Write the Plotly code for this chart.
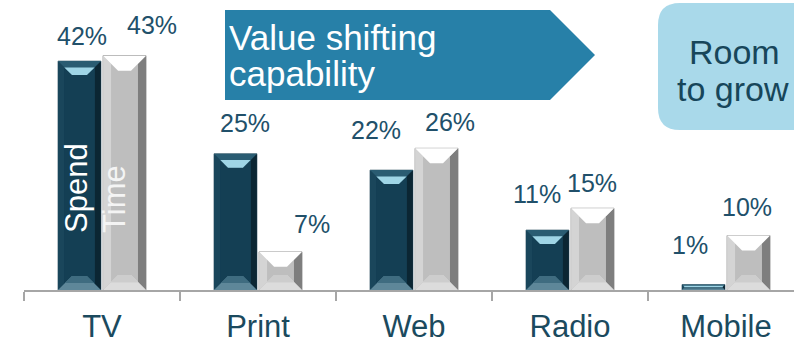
import plotly.graph_objects as go

categories = ["TV", "Print", "Web", "Radio", "Mobile"]
spend = [42, 25, 22, 11, 1]
time_share = [43, 7, 26, 15, 10]
spend_labels = ["42%", "25%", "22%", "11%", "1%"]
time_labels = ["43%", "7%", "26%", "15%", "10%"]

# ---- styling / layout constants ----
W, H = 794, 345
ML, MR, MT, MB = 24, 0, 0, 55
PW, PH = W - ML - MR, H - MT - MB
PX_PER_CAT = 156.0
PX_PER_UNIT = 5.45
YMAX = PH / PX_PER_UNIT
XMIN = -0.5
XMAX = XMIN + PW / PX_PER_CAT
BAR_W = 0.275
OFF_SPEND = -0.282
OFF_TIME = 0.007
FONT = "Liberation Sans, Arial, sans-serif"
LABEL_COLOR = "#21506A"

# label offsets (px) relative to bar top centre: (dx, dy)
spend_off = [(3, 25), (10, 31), (-15, 40), (-10, 36), (-13, 40)]
time_off = [(27, 31), (31, 28), (13, 26), (-1, 25), (-2, 29)]

def px(x):
    return (x - ML) / PW

def py(y):
    return (PH - y) / PH

fig = go.Figure()
fig.add_trace(go.Bar(x=categories, y=spend, name="Spend", width=BAR_W, offset=OFF_SPEND,
                     marker=dict(color="#143F54", line=dict(color="#6E8590", width=1)),
                     hoverinfo="skip"))
fig.add_trace(go.Bar(x=categories, y=time_share, name="Time", width=BAR_W, offset=OFF_TIME,
                     marker=dict(color="#BEBEBE", line=dict(color="#9A9A9A", width=1)),
                     hoverinfo="skip"))

shapes = []

def poly(pts, c):
    d = "M " + " L ".join(f"{x},{y}" for x, y in pts) + " Z"
    shapes.append(dict(type="path", xref="x", yref="y", path=d, fillcolor=c,
                       line=dict(width=0), layer="above"))

def bevel(i, off, v, st):
    L = i + off
    R = L + BAR_W
    hpx = v * PX_PER_UNIT
    def dx(p):
        return p / PX_PER_CAT
    def dy(p):
        return p / PX_PER_UNIT
    b = min(st["depth"], hpx / 2.0)
    s = min(st["side"], hpx / 2.0)
    poly([(L, 0), (L, v), (L + dx(s), v - dy(s)), (L + dx(s), dy(s))], st["left"])
    poly([(R, 0), (R, v), (R - dx(s), v - dy(s)), (R - dx(s), dy(s))], st["right"])
    poly([(L, v), (R, v), (R - dx(b), v - dy(b)), (L + dx(b), v - dy(b))], st["top"])
    if st.get("band"):
        a = b * 0.45
        poly([(L + dx(a), v - dy(a)), (R - dx(a), v - dy(a)),
              (R - dx(b), v - dy(b)), (L + dx(b), v - dy(b))], st["band"])
    poly([(L, 0), (R, 0), (R - dx(b), dy(b)), (L + dx(b), dy(b))], st["bottom"])
    if st.get("bband"):
        a = b * 0.5
        poly([(L + dx(a), dy(a)), (R - dx(a), dy(a)),
              (R - dx(b), dy(b)), (L + dx(b), dy(b))], st["bband"])

spend_style = dict(top="#2A5C72", band="#9FD5E6", bottom="#5E8799", bband="#3F6C80",
                   left="#1A465B", right="#0B2633", side=6, depth=14)
time_style = dict(top="#FFFFFF", band=None, bottom="#DCDCDC", bband="#CDCDCD",
                  left="#D4D4D4", right="#7E7E7E", side=8, depth=15)

for i in range(len(categories)):
    bevel(i, OFF_SPEND, spend[i], spend_style)
    bevel(i, OFF_TIME, time_share[i], time_style)

# arrow
shapes.append(dict(type="path", xref="paper", yref="paper",
                   path=f"M {px(225)},{py(10)} L {px(550)},{py(10)} L {px(595)},{py(55)} "
                        f"L {px(550)},{py(100)} L {px(225)},{py(100)} Z",
                   fillcolor="#2780A8", line=dict(width=0), layer="above"))
# rounded box
x0, x1, y0, y1, r = 658, 815, 3, 130, 22
shapes.append(dict(type="path", xref="paper", yref="paper",
                   path=(f"M {px(x0 + r)},{py(y0)} L {px(x1)},{py(y0)} L {px(x1)},{py(y1)} "
                         f"L {px(x0 + r)},{py(y1)} Q {px(x0)},{py(y1)} {px(x0)},{py(y1 - r)} "
                         f"L {px(x0)},{py(y0 + r)} Q {px(x0)},{py(y0)} {px(x0 + r)},{py(y0)} Z"),
                   fillcolor="#A9D9EA", line=dict(width=0), layer="above"))

ann = []
for i in range(len(categories)):
    dx_, dy_ = spend_off[i]
    ann.append(dict(x=i + OFF_SPEND + BAR_W / 2, y=spend[i], xref="x", yref="y",
                    text=spend_labels[i], showarrow=False, xanchor="center", yanchor="middle",
                    xshift=dx_, yshift=dy_, font=dict(family=FONT, size=25, color=LABEL_COLOR)))
    dx_, dy_ = time_off[i]
    ann.append(dict(x=i + OFF_TIME + BAR_W / 2, y=time_share[i], xref="x", yref="y",
                    text=time_labels[i], showarrow=False, xanchor="center", yanchor="middle",
                    xshift=dx_, yshift=dy_, font=dict(family=FONT, size=25, color=LABEL_COLOR)))

# series names inside TV bars
ann.append(dict(x=px(76), y=py(188), xref="paper", yref="paper", text="Spend", textangle=-90,
                showarrow=False, xanchor="center", yanchor="middle",
                font=dict(family=FONT, size=31, color="#FFFFFF")))
ann.append(dict(x=px(115), y=py(199), xref="paper", yref="paper", text="Time", textangle=-90,
                showarrow=False, xanchor="center", yanchor="middle",
                font=dict(family=FONT, size=31, color="#F4F4F4")))

# callout texts
ann.append(dict(x=px(227), y=py(37), xref="paper", yref="paper", text="Value shifting",
                showarrow=False, xanchor="left", yanchor="middle",
                font=dict(family=FONT, size=35, color="#FFFFFF")))
ann.append(dict(x=px(227), y=py(74), xref="paper", yref="paper", text="capability",
                showarrow=False, xanchor="left", yanchor="middle",
                font=dict(family=FONT, size=35, color="#FFFFFF")))
ann.append(dict(x=px(734), y=py(52), xref="paper", yref="paper", text="Room",
                showarrow=False, xanchor="center", yanchor="middle",
                font=dict(family=FONT, size=34, color="#17465A")))
ann.append(dict(x=px(733), y=py(89), xref="paper", yref="paper", text="to grow",
                showarrow=False, xanchor="center", yanchor="middle",
                font=dict(family=FONT, size=34, color="#17465A")))

fig.update_layout(
    width=W, height=H, margin=dict(l=ML, r=MR, t=MT, b=MB),
    paper_bgcolor="white", plot_bgcolor="white",
    showlegend=False, barmode="group",
    shapes=shapes, annotations=ann,
    xaxis=dict(type="category", range=[XMIN, XMAX], showline=True, linecolor="#A6A6A6",
               linewidth=1.5, ticks="outside", tickson="boundaries", ticklen=9,
               tickcolor="#A6A6A6", tickwidth=1.5, showgrid=False, zeroline=False,
               ticklabelstandoff=8,
               tickfont=dict(family=FONT, size=31, color="#1B4A5E")),
    yaxis=dict(range=[0, YMAX], visible=False, showgrid=False, zeroline=False),
)

fig.write_html("out.html")
